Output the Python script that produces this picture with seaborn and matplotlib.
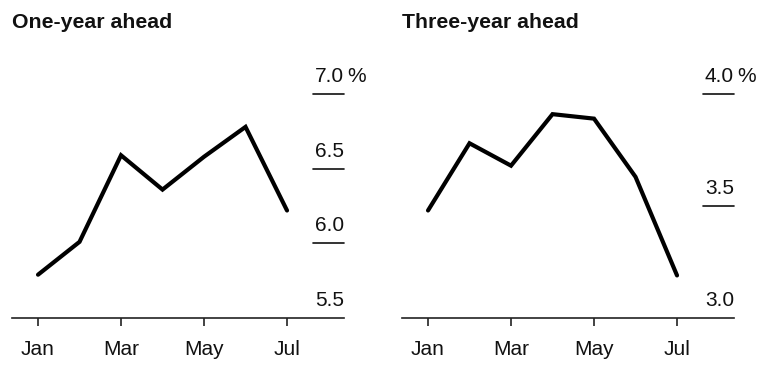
import numpy as np
import pandas as pd
import seaborn as sns
import matplotlib.pyplot as plt
import matplotlib.transforms as mtransforms

months = ["Jan", "Feb", "Mar", "Apr", "May", "Jun", "Jul"]
one_year = [5.79, 6.01, 6.59, 6.36, 6.58, 6.78, 6.22]
three_year = [3.48, 3.78, 3.68, 3.91, 3.89, 3.63, 3.19]
one_ticks = [5.5, 6.0, 6.5, 7.0]
three_ticks = [3.0, 3.5, 4.0]
tick_months = ["Jan", "Mar", "May", "Jul"]

sns.set_theme(style="white")
plt.rcParams['font.family'] = ['Liberation Sans', 'DejaVu Sans']

df = pd.DataFrame({"month": np.arange(len(months)), "one": one_year, "three": three_year})

fig = plt.figure(figsize=(7.66, 3.87), dpi=100)
W, H = 766, 387
ax1 = fig.add_axes([12 / W, 69 / H, 332 / W, 268 / H])
ax2 = fig.add_axes([402 / W, 69 / H, 332 / W, 268 / H])

panels = [
    (ax1, "one", "One-year ahead", one_ticks, (5.5, 5.5 + 268 / 149.3)),
    (ax2, "three", "Three-year ahead", three_ticks, (3.0, 3.0 + 268 / 224.0)),
]

for ax, col, title, yt, ylim in panels:
    sns.lineplot(data=df, x="month", y=col, ax=ax, color="black", linewidth=3.0)
    ax.lines[0].set_solid_joinstyle("miter")
    ax.set_xlim(-0.627, 7.373)
    ax.set_ylim(*ylim)
    for s in ["top", "left", "right"]:
        ax.spines[s].set_visible(False)
    ax.spines["bottom"].set_color("#222222")
    ax.spines["bottom"].set_linewidth(1.2)
    ax.set_xticks([months.index(m) for m in tick_months])
    ax.set_xticklabels(tick_months, fontsize=15, color="#111111")
    ax.tick_params(axis="x", direction="out", length=6, width=1.2, color="#222222", pad=10, bottom=True)
    ax.set_yticks([])
    ax.set_xlabel("")
    ax.set_ylabel("")
    ax.set_title(title, loc="left", fontsize=15.3, fontweight="bold", pad=15.5, color="#111111")

    trans = mtransforms.blended_transform_factory(ax.transAxes, ax.transData)
    for i, v in enumerate(yt):
        if v != yt[0]:
            ax.plot([0.907, 1.0], [v, v], transform=trans, color="#111111", lw=1.2, clip_on=False)
        ax.annotate(f"{v:.1f}", xy=(1.0, v), xycoords=trans, xytext=(0, 8.6),
                    textcoords="offset points", ha="right", va="baseline",
                    fontsize=15, color="#111111", annotation_clip=False)
    ax.annotate("%", xy=(1.0, yt[-1]), xycoords=trans, xytext=(2, 8.6),
                textcoords="offset points", ha="left", va="baseline",
                fontsize=15, color="#111111", annotation_clip=False)

fig.savefig("out.png", dpi=100)
